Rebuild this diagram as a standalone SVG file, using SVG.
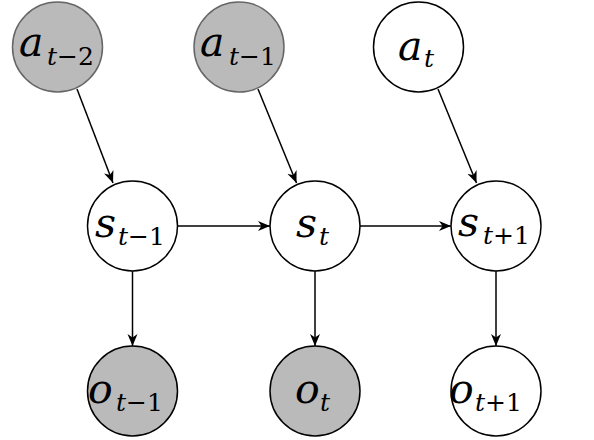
<svg xmlns="http://www.w3.org/2000/svg" width="594" height="440" viewBox="0 0 594 440">
<style>
.n{stroke:#000;stroke-width:1.5;fill:#fff}
.g{fill:#bababa}
.gs{stroke:#666}
.m{font-family:"DejaVu Serif",serif;font-style:italic;font-size:41px;fill:#000}
.s{font-family:"DejaVu Serif",serif;font-size:25px;fill:#000}
.i{font-style:italic}
.e{stroke:#000;stroke-width:1.5;fill:none;marker-end:url(#ah)}
</style>
<defs>
<marker id="ah" markerUnits="userSpaceOnUse" markerWidth="14" markerHeight="12" refX="12" refY="6" orient="auto">
<path d="M0,1 L12,6 L0,11 L3.5,6 z" fill="#000"/>
</marker>
</defs>
<rect width="594" height="440" fill="#fff"/>
<g id="connectors">
<line class="e" x1="77" y1="89" x2="113" y2="183"/>
<line class="e" x1="258" y1="89" x2="296.5" y2="183"/>
<line class="e" x1="438" y1="89" x2="476.5" y2="183"/>
<line class="e" x1="177.5" y1="226" x2="270" y2="226"/>
<line class="e" x1="360" y1="226" x2="451" y2="226"/>
<line class="e" x1="132.5" y1="271" x2="132.5" y2="346"/>
<line class="e" x1="315" y1="271" x2="315" y2="346"/>
<line class="e" x1="496" y1="271" x2="496" y2="346"/>
</g>
<g id="a_tm2">
<circle class="n g gs" cx="57.5" cy="47" r="45"/>
<text class="m" x="19" y="56">a</text>
<text class="s" x="47" y="65"><tspan class="i">t</tspan>−2</text>
</g>
<g id="a_tm1">
<circle class="n g gs" cx="239" cy="47" r="45"/>
<text class="m" x="200" y="56">a</text>
<text class="s" x="229" y="65"><tspan class="i">t</tspan>−1</text>
</g>
<g id="a_t">
<circle class="n" cx="418.5" cy="47" r="45"/>
<text class="m" x="398" y="60">a</text>
<text class="s" x="424" y="67"><tspan class="i">t</tspan></text>
</g>
<g id="s_tm1">
<circle class="n" cx="132.5" cy="226" r="45"/>
<text class="m" x="95" y="237">s</text>
<text class="s" x="118" y="245"><tspan class="i">t</tspan>−1</text>
</g>
<g id="s_t">
<circle class="n" cx="315" cy="226" r="45"/>
<text class="m" x="296" y="237">s</text>
<text class="s" x="319" y="245"><tspan class="i">t</tspan></text>
</g>
<g id="s_tp1">
<circle class="n" cx="496" cy="226" r="45"/>
<text class="m" x="458" y="236">s</text>
<text class="s" x="483" y="244"><tspan class="i">t</tspan>+1</text>
</g>
<g id="o_tm1">
<circle class="n g" cx="132.5" cy="391" r="45"/>
<text class="m" x="88" y="403">o</text>
<text class="s" x="116" y="411"><tspan class="i">t</tspan>−1</text>
</g>
<g id="o_t">
<circle class="n g" cx="315" cy="391" r="45"/>
<text class="m" x="295" y="403">o</text>
<text class="s" x="320" y="411"><tspan class="i">t</tspan></text>
</g>
<g id="o_tp1">
<circle class="n" cx="496" cy="391" r="45"/>
<text class="m" x="449" y="403">o</text>
<text class="s" x="475" y="411"><tspan class="i">t</tspan>+1</text>
</g>
</svg>
